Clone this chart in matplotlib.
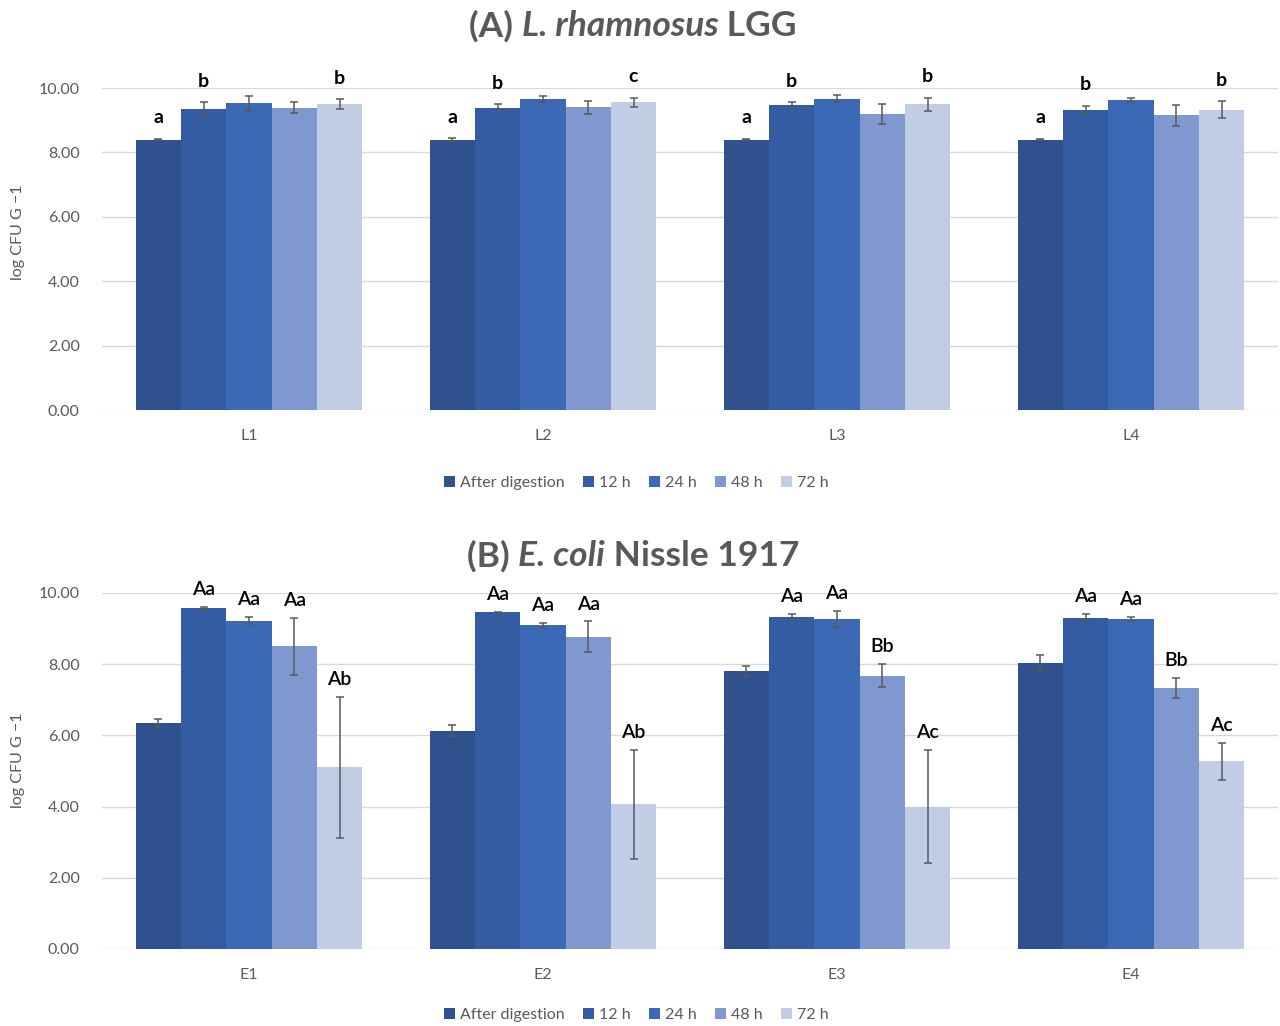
import matplotlib.pyplot as plt
import numpy as np

plt.rcParams['font.family'] = ['Lato', 'DejaVu Sans']

series = ['After digestion', '12 h', '24 h', '48 h', '72 h']
colors = ['#2F528F', '#335CA3', '#3C69B5', '#7F98CF', '#C1CCE5']

# (A) L. rhamnosus LGG
lgg_groups = ['L1', 'L2', 'L3', 'L4']
lgg_after = [8.40, 8.40, 8.40, 8.40]
lgg_12h = [9.36, 9.38, 9.46, 9.33]
lgg_24h = [9.52, 9.65, 9.67, 9.62]
lgg_48h = [9.39, 9.40, 9.19, 9.15]
lgg_72h = [9.50, 9.55, 9.50, 9.33]
lgg_err_after = [0.03, 0.04, 0.03, 0.03]
lgg_err_12h = [0.21, 0.12, 0.09, 0.12]
lgg_err_24h = [0.23, 0.09, 0.11, 0.07]
lgg_err_48h = [0.16, 0.20, 0.30, 0.33]
lgg_err_72h = [0.16, 0.15, 0.20, 0.27]
lgg_lab_after = ['a', 'a', 'a', 'a']
lgg_lab_12h = ['b', 'b', 'b', 'b']
lgg_lab_24h = ['', '', '', '']
lgg_lab_48h = ['', '', '', '']
lgg_lab_72h = ['b', 'c', 'b', 'b']

# (B) E. coli Nissle 1917
ecn_groups = ['E1', 'E2', 'E3', 'E4']
ecn_after = [6.35, 6.13, 7.82, 8.04]
ecn_12h = [9.58, 9.46, 9.33, 9.31]
ecn_24h = [9.22, 9.09, 9.27, 9.26]
ecn_48h = [8.50, 8.77, 7.68, 7.34]
ecn_72h = [5.10, 4.07, 4.00, 5.27]
ecn_err_after = [0.11, 0.15, 0.14, 0.21]
ecn_err_12h = [0.03, 0.02, 0.09, 0.11]
ecn_err_24h = [0.10, 0.07, 0.22, 0.06]
ecn_err_48h = [0.80, 0.43, 0.32, 0.28]
ecn_err_72h = [1.98, 1.53, 1.58, 0.51]
ecn_lab_after = ['', '', '', '']
ecn_lab_12h = ['Aa', 'Aa', 'Aa', 'Aa']
ecn_lab_24h = ['Aa', 'Aa', 'Aa', 'Aa']
ecn_lab_48h = ['Aa', 'Aa', 'Bb', 'Bb']
ecn_lab_72h = ['Ab', 'Ab', 'Ac', 'Ac']

grey = '#595959'
W, H = 1280, 1026
fig = plt.figure(figsize=(12.8, 10.26), dpi=100)


def draw_panel(ax, groups, vals, errs, labs, lab_weight, lab_off):
    x = np.arange(len(groups))
    bw = 0.154
    for i, (v, e, lab) in enumerate(zip(vals, errs, labs)):
        xs = x + (i - 2) * bw
        ax.bar(xs, v, width=bw, color=colors[i], label=series[i], zorder=2)
        ax.errorbar(xs, v, yerr=e, fmt='none', ecolor=grey, elinewidth=1.1,
                    capsize=3, capthick=1.1, zorder=3, clip_on=False)
        for xx, vv, ee, tt in zip(xs, v, e, lab):
            if tt:
                ax.annotate(tt, (xx, vv + ee), xytext=(0, lab_off),
                            textcoords='offset points', ha='center', va='center',
                            fontsize=14, color='black', fontweight=lab_weight,
                            annotation_clip=False)
    ax.set_xlim(-0.5, len(groups) - 0.5)
    ax.set_ylim(0, 10)
    ax.set_yticks(np.arange(0, 10.1, 2))
    ax.set_yticklabels([f'{t:.2f}' for t in np.arange(0, 10.1, 2)])
    ax.set_xticks(x)
    ax.set_xticklabels(groups)
    ax.grid(axis='y', color='#D9D9D9', linewidth=1, zorder=0)
    ax.set_axisbelow(True)
    for s in ax.spines.values():
        s.set_visible(False)
    ax.tick_params(axis='both', length=0, labelsize=11.5, labelcolor=grey)
    ax.tick_params(axis='y', pad=16)
    ax.tick_params(axis='x', pad=14)


def title_parts(parts, xc, yc):
    # draw the title piece by piece so the species name can be italic
    r = fig.canvas.get_renderer()
    texts = []
    for s, style in parts:
        t = fig.text(0, 1 - yc / H, s, ha='left', va='center', fontsize=25.5,
                     fontweight='bold', fontstyle=style, color=grey)
        texts.append(t)
    widths = [t.get_window_extent(r).width for t in texts]
    x0 = xc - sum(widths) / 2
    for t, w in zip(texts, widths):
        t.set_x(x0 / W)
        x0 += w


# panel A
axA = fig.add_axes([102 / W, 1 - 410 / H, 1176 / W, 322 / H])
draw_panel(axA, lgg_groups,
           [lgg_after, lgg_12h, lgg_24h, lgg_48h, lgg_72h],
           [lgg_err_after, lgg_err_12h, lgg_err_24h, lgg_err_48h, lgg_err_72h],
           [lgg_lab_after, lgg_lab_12h, lgg_lab_24h, lgg_lab_48h, lgg_lab_72h],
           'bold', 15)

# panel B
axB = fig.add_axes([102 / W, 1 - 949 / H, 1176 / W, 356 / H])
draw_panel(axB, ecn_groups,
           [ecn_after, ecn_12h, ecn_24h, ecn_48h, ecn_72h],
           [ecn_err_after, ecn_err_12h, ecn_err_24h, ecn_err_48h, ecn_err_72h],
           [ecn_lab_after, ecn_lab_12h, ecn_lab_24h, ecn_lab_48h, ecn_lab_72h],
           'semibold', 12.5)

title_parts([('(A) ', 'normal'), ('L. rhamnosus', 'italic'), (' LGG', 'normal')], 633, 26)
title_parts([('(B) ', 'normal'), ('E. coli', 'italic'), (' Nissle 1917', 'normal')], 633, 556)

# y labels
fig.text(18 / W, 1 - 232 / H, 'log CFU G \u22121', rotation=90, ha='center', va='center',
         fontsize=11.5, color=grey)
fig.text(18 / W, 1 - 760 / H, 'log CFU G \u22121', rotation=90, ha='center', va='center',
         fontsize=11.5, color=grey)

# legends
for ax, ly in [(axA, 483), (axB, 1015)]:
    h, l = ax.get_legend_handles_labels()
    fig.legend(h, l, loc='center', bbox_to_anchor=(636 / W, 1 - ly / H), ncol=5,
               frameon=False, fontsize=11.5, labelcolor=grey, handlelength=0.7,
               handleheight=0.7, handletextpad=0.3, columnspacing=1.15)

fig.savefig('out.png', dpi=100)
